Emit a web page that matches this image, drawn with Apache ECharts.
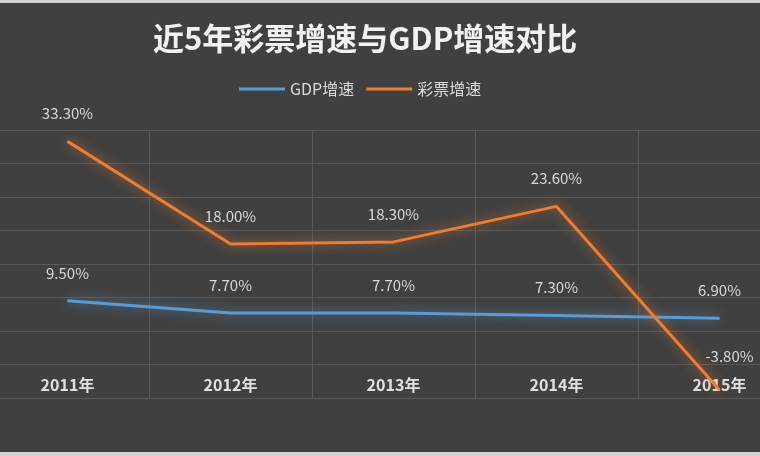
<!DOCTYPE html>
<html>
<head>
<meta charset="utf-8">
<script src="https://cdn.jsdelivr.net/npm/echarts@6/dist/echarts.min.js"></script>
<style>
html,body{margin:0;padding:0;background:#d4d4d4;width:760px;height:456px;overflow:hidden;}
#c{position:absolute;left:0;top:3px;width:760px;height:449px;background:#404040;}
</style>
</head>
<body>
<div id="c"></div>
<script>
var categories = ['2011年', '2012年', '2013年', '2014年', '2015年'];
var gdpGrowth = [9.5, 7.7, 7.7, 7.3, 6.9];
var lotteryGrowth = [33.3, 18.0, 18.3, 23.6, -3.8];
var titleText = '近5年彩票增速与GDP增速对比';
var seriesNames = ['GDP增速', '彩票增速'];
var colors = ['#5b9bd5', '#ed7d31'];

var chart = echarts.init(document.getElementById('c'));
var fontCJK = '"Microsoft YaHei","Noto Sans CJK SC",sans-serif';
var labelFmt = function (p) { return p.value.toFixed(2) + '%'; };

chart.setOption({
  backgroundColor: '#404040',
  animation: false,
  color: colors,
  title: {
    text: titleText,
    left: 148,
    top: 15,
    textStyle: { color: '#f2f2f2', fontSize: 31, fontWeight: 'bold', fontFamily: fontCJK }
  },
  legend: {
    data: seriesNames.map(function (n, i) { return { name: n, itemStyle: { color: colors[i], opacity: 1 } }; }),
    top: 73,
    left: 234,
    icon: 'rect',
    itemWidth: 46,
    itemHeight: 3,
    itemGap: 12,
    textStyle: { color: '#d9d9d9', fontSize: 16, fontFamily: fontCJK }
  },
  grid: { left: -14, right: -41, top: 127, bottom: 54, containLabel: false, outerBoundsMode: 'none' },
  xAxis: {
    type: 'category',
    data: categories,
    boundaryGap: true,
    axisLine: { show: true, onZero: false, lineStyle: { color: '#595959', width: 1 } },
    axisTick: { show: false },
    axisLabel: { color: '#e0e0e0', fontSize: 16, fontWeight: 'bold', margin: -21, fontFamily: fontCJK },
    splitLine: { show: true, lineStyle: { color: '#595959', width: 1 } }
  },
  yAxis: {
    type: 'value',
    min: -5,
    max: 35,
    interval: 5,
    axisLine: { show: false },
    axisTick: { show: false },
    axisLabel: { show: false },
    splitLine: { show: true, lineStyle: { color: '#595959', width: 1 } }
  },
  series: [
    {
      name: seriesNames[0],
      type: 'line',
      data: gdpGrowth,
      symbol: 'circle',
      symbolSize: 1,
      showSymbol: true,
      smooth: false,
      lineStyle: { color: colors[0], width: 3, shadowBlur: 12, shadowColor: 'rgba(91,155,213,0.8)' },
      itemStyle: { color: colors[0] },
      label: {
        show: true, position: 'top', distance: 20, formatter: labelFmt,
        color: '#d9d9d9', fontSize: 15, fontFamily: fontCJK
      }
    },
    {
      name: seriesNames[1],
      type: 'line',
      data: lotteryGrowth.map(function (v, i) {
        if (i === 4) return { value: v, label: { offset: [10, -6] } };
        return v;
      }),
      symbol: 'circle',
      symbolSize: 1,
      showSymbol: true,
      smooth: false,
      lineStyle: { color: colors[1], width: 3, shadowBlur: 12, shadowColor: 'rgba(237,125,49,0.8)' },
      itemStyle: { color: colors[1] },
      label: {
        show: true, position: 'top', distance: 20, formatter: labelFmt,
        color: '#d9d9d9', fontSize: 15, fontFamily: fontCJK
      }
    }
  ]
});
</script>
</body>
</html>
